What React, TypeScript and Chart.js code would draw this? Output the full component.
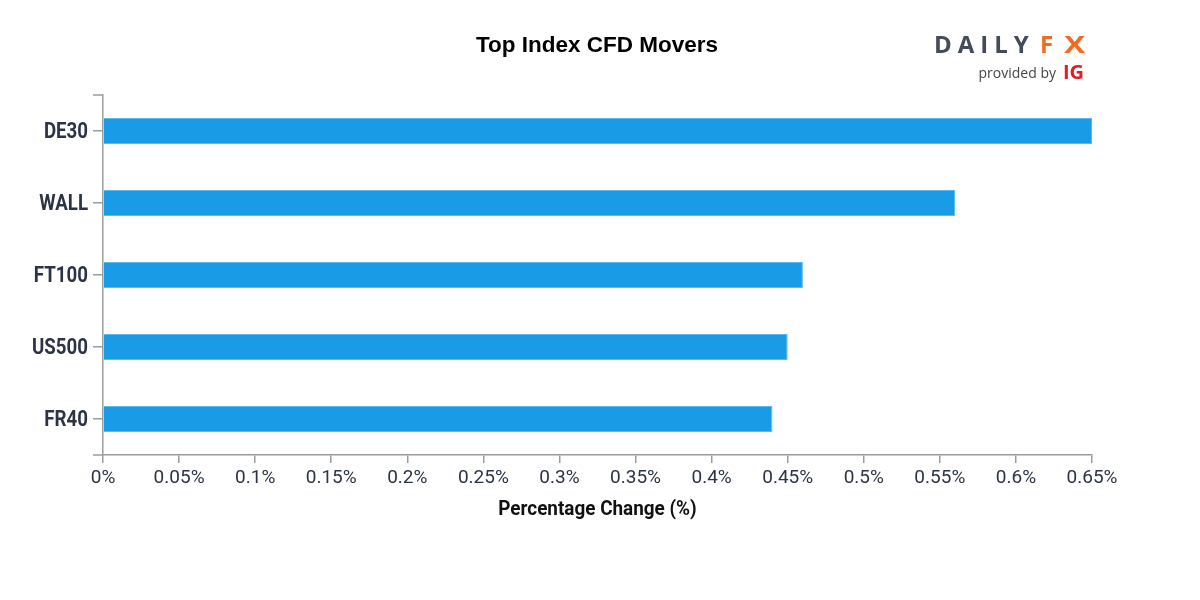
import React, { useEffect, useRef } from "react";
import { Chart, registerables } from "chart.js";

Chart.register(...registerables);

const categories = ["DE30", "WALL", "FT100", "US500", "FR40"];
const changes = [0.65, 0.56, 0.46, 0.45, 0.44];
const xMin = 0;
const xMax = 0.65;
const xStep = 0.05;
const chartTitle = "Top Index CFD Movers";
const xAxisTitle = "Percentage Change (%)";

const TEXT = "#2b3444";
const AXIS = "#9c9c9c";

function condensedText(ctx: CanvasRenderingContext2D, text: string, x: number, y: number, sx: number) {
  ctx.save();
  ctx.translate(x, y);
  ctx.scale(sx, 1);
  ctx.fillText(text, 0, 0);
  ctx.restore();
}

const decorPlugin = {
  id: "decor",
  afterDraw(chart: any) {
    const ctx = chart.ctx as CanvasRenderingContext2D;
    const area = chart.chartArea;
    ctx.save();
    // title
    ctx.fillStyle = "#000";
    ctx.font = 'bold 22.5px "Liberation Sans", Arial, sans-serif';
    ctx.textAlign = "center";
    ctx.textBaseline = "alphabetic";
    ctx.fillText(chartTitle, 597, 52);
    // x axis title (condensed look)
    ctx.fillStyle = "#111";
    ctx.font = 'bold 21px Roboto, sans-serif';
    condensedText(ctx, xAxisTitle, (area.left + area.right) / 2, 515, 0.9);
    // y category labels, placed by the category scale (condensed look)
    const ys = chart.scales.y;
    ctx.fillStyle = TEXT;
    ctx.font = 'bold 22.5px Roboto, sans-serif';
    ctx.textAlign = "right";
    ctx.textBaseline = "middle";
    ys.ticks.forEach((t: any, i: number) => {
      const y = ys.getPixelForTick(i);
      condensedText(ctx, String(ys.getLabelForValue(t.value)), area.left - 15, y + 1, 0.83);
    });
    ctx.textBaseline = "alphabetic";
    // outer ticks (domain path ends)
    ctx.strokeStyle = AXIS;
    ctx.lineWidth = 1.5;
    ctx.beginPath();
    ctx.moveTo(area.left - 10, area.top);
    ctx.lineTo(area.left, area.top);
    ctx.moveTo(area.left - 10, area.bottom);
    ctx.lineTo(area.left, area.bottom);
    ctx.stroke();
    // logo
    ctx.textAlign = "left";
    ctx.font = 'bold 24px "Open Sans", sans-serif';
    (ctx as any).letterSpacing = "6px";
    ctx.fillStyle = "#434c59";
    ctx.fillText("DAILY", 934, 53);
    (ctx as any).letterSpacing = "0px";
    ctx.fillStyle = "#f26b21";
    ctx.fillText("F", 1040, 53);
    ctx.textAlign = "right";
    condensedText(ctx, "X", 1085, 53, 1.3);
    ctx.font = '14px "Open Sans", sans-serif';
    ctx.fillStyle = "#444";
    ctx.textAlign = "right";
    ctx.fillText("provided by", 1056, 78);
    ctx.font = 'bold 20px "Open Sans", sans-serif';
    ctx.fillStyle = "#e31b23";
    ctx.textAlign = "left";
    ctx.fillText("IG", 1063, 79);
    ctx.restore();
  },
};

export default function App() {
  const ref = useRef<HTMLCanvasElement | null>(null);
  useEffect(() => {
    document.body.style.margin = "0";
    const canvas = ref.current!;
    const chart = new Chart(canvas, {
      type: "bar",
      data: {
        labels: categories,
        datasets: [
          {
            data: changes,
            backgroundColor: "#1a9be6",
            borderColor: "#5cb9ef",
            borderWidth: 1,
            barPercentage: 26 / 72,
            categoryPercentage: 1,
          },
        ],
      },
      options: {
        indexAxis: "y",
        animation: false,
        responsive: false,
        devicePixelRatio: 1,
        layout: { padding: { top: 95, right: 108, left: 0, bottom: 0 } },
        plugins: { legend: { display: false }, tooltip: { enabled: false }, title: { display: false } },
        scales: {
          x: {
            min: xMin,
            max: xMax,
            afterFit(scale: any) {
              scale.height = 145;
            },
            ticks: {
              stepSize: xStep,
              color: TEXT,
              font: { family: "Roboto", size: 19 },
              padding: 4,
              maxRotation: 0,
              autoSkip: false,
              callback: (v: any) => `${Number(Number(v).toFixed(2))}%`,
            },
            grid: { drawOnChartArea: false, drawTicks: true, tickLength: 8, color: AXIS, lineWidth: 1.5 },
            border: { color: AXIS, width: 1.5 },
          },
          y: {
            afterFit(scale: any) {
              scale.width = 103;
            },
            ticks: {
              color: "rgba(0,0,0,0)",
              font: { family: "Roboto", size: 20, weight: "bold" },
              padding: 5,
            },
            grid: { offset: false, drawOnChartArea: false, drawTicks: true, tickLength: 10, color: AXIS, lineWidth: 1.5 },
            border: { color: AXIS, width: 1.5 },
          },
        },
      },
      plugins: [decorPlugin],
    } as any);
    return () => chart.destroy();
  }, []);
  return <canvas ref={ref} width={1200} height={600} style={{ display: "block", width: 1200, height: 600 }} />;
}
